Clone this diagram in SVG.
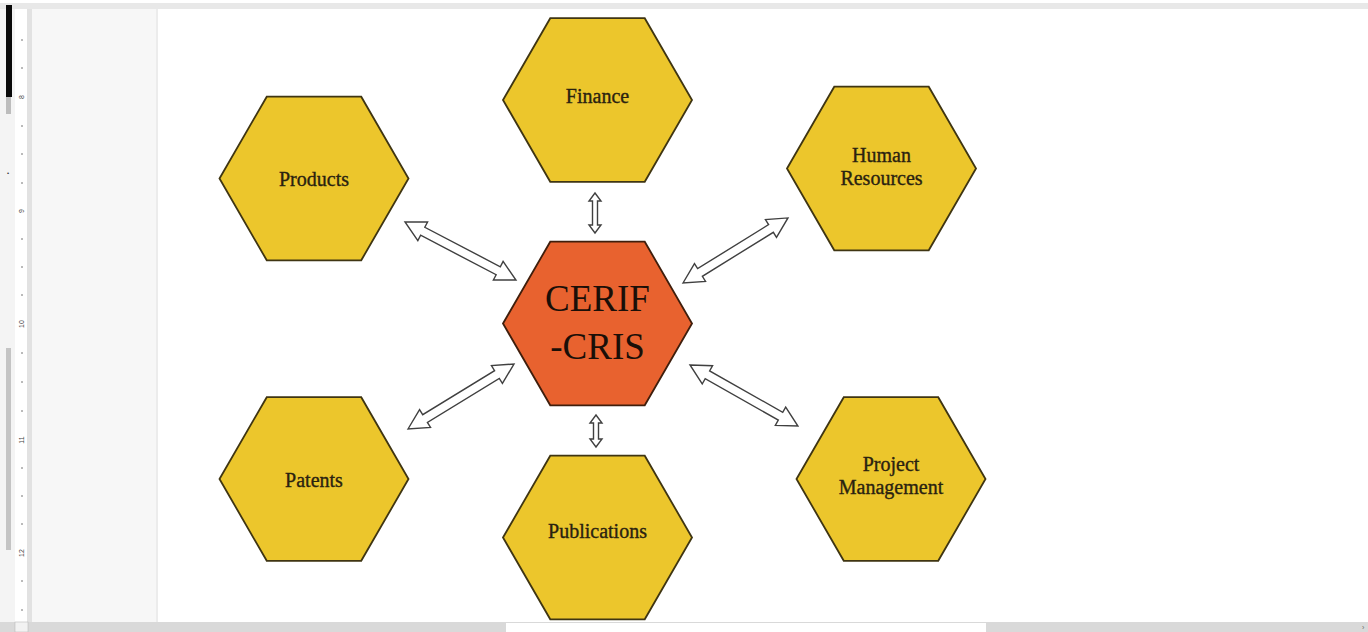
<svg xmlns="http://www.w3.org/2000/svg" width="1368" height="632" viewBox="0 0 1368 632">
  <style>
    .hex { fill: #ECC62C; stroke: #3f3512; stroke-width: 1.8; stroke-linejoin: miter; }
    .core { fill: #E8622F; stroke: #3f1e0c; stroke-width: 1.8; }
    .lbl { font-family: "Liberation Serif", "Times New Roman", serif; font-size: 20px; fill: #2a2210; stroke: #2a2210; stroke-width: 0.35; text-anchor: middle; }
    .big { font-family: "Liberation Serif", "Times New Roman", serif; font-size: 37px; fill: #1a0f08; text-anchor: middle; }
    .arrow { fill: #ffffff; stroke: #404040; stroke-width: 1.4; stroke-linejoin: miter; }
    .tick { stroke: #777; stroke-width: 1; }
    .rnum { font-family: "Liberation Sans", Arial, sans-serif; font-size: 7px; fill: #444; text-anchor: middle; }
  </style>
  <defs>
    <!-- regular flat-topped hexagon, circumradius 94.5, centred on origin -->
    <polygon id="hexShape" points="-94.5,0 -47.25,-81.8 47.25,-81.8 94.5,0 47.25,81.8 -47.25,81.8"/>
  </defs>

  <!-- editor chrome -->
  <g id="chrome">
    <rect x="0" y="0" width="1368" height="632" fill="#ffffff"/>
    <rect x="0" y="3" width="1368" height="6" fill="#e8e8e8"/>
    <rect x="0" y="9" width="15" height="613" fill="#f4f4f4"/>
    <rect x="6" y="5" width="6" height="92" fill="#0a0a0a"/>
    <rect x="6" y="97" width="5" height="17" fill="#bdbdbd"/>
    <rect x="6" y="348" width="5" height="202" fill="#c4c4c4"/>
    <text x="7" y="175" font-family="Liberation Sans, Arial, sans-serif" font-size="6" fill="#333">•</text>
    <!-- vertical ruler -->
    <rect x="15" y="9" width="12" height="613" fill="#ffffff"/>
    <rect x="27" y="9" width="5" height="613" fill="#e2e2e2"/>
    <g id="ruler">
      <line class="tick" x1="21" y1="40" x2="23" y2="40"/>
      <line class="tick" x1="21" y1="68" x2="23" y2="68"/>
      <line class="tick" x1="21" y1="126" x2="23" y2="126"/>
      <line class="tick" x1="21" y1="154" x2="23" y2="154"/>
      <line class="tick" x1="21" y1="183" x2="23" y2="183"/>
      <line class="tick" x1="21" y1="239" x2="23" y2="239"/>
      <line class="tick" x1="21" y1="267" x2="23" y2="267"/>
      <line class="tick" x1="21" y1="295" x2="23" y2="295"/>
      <line class="tick" x1="21" y1="353" x2="23" y2="353"/>
      <line class="tick" x1="21" y1="382" x2="23" y2="382"/>
      <line class="tick" x1="21" y1="411" x2="23" y2="411"/>
      <line class="tick" x1="21" y1="468" x2="23" y2="468"/>
      <line class="tick" x1="21" y1="496" x2="23" y2="496"/>
      <line class="tick" x1="21" y1="524" x2="23" y2="524"/>
      <line class="tick" x1="21" y1="581" x2="23" y2="581"/>
      <line class="tick" x1="21" y1="610" x2="23" y2="610"/>
      <text class="rnum" transform="translate(24,97) rotate(-90)">8</text>
      <text class="rnum" transform="translate(24,211) rotate(-90)">9</text>
      <text class="rnum" transform="translate(24,324) rotate(-90)">10</text>
      <text class="rnum" transform="translate(24,440) rotate(-90)">11</text>
      <text class="rnum" transform="translate(24,553) rotate(-90)">12</text>
    </g>
    <!-- page margin -->
    <rect x="32" y="9" width="125" height="613" fill="#f7f7f7"/>
    <rect x="156" y="9" width="2" height="613" fill="#ececec"/>
    <!-- horizontal scrollbar -->
    <rect x="0" y="622" width="1368" height="10" fill="#d9d9d9"/>
    <rect x="15" y="622" width="13" height="10" fill="#f2f2f2" stroke="#bbb" stroke-width="0.6"/>
    <rect x="506" y="623" width="480" height="9" fill="#ffffff"/>
    <text x="1362" y="630" font-family="Liberation Sans, Arial, sans-serif" font-size="7" fill="#666">›</text>
  </g>

  <!-- connectors: white double-headed block arrows -->
  <g id="connectors">
    <!-- Products <-> CERIF -->
    <polygon class="arrow" transform="translate(405,222) rotate(27.6)" points="0,0 20,-10.5 20,-4.5 105.2,-4.5 105.2,-10.5 125.2,0 105.2,10.5 105.2,4.5 20,4.5 20,10.5"/>
    <!-- CERIF <-> Human Resources -->
    <polygon class="arrow" transform="translate(683,283) rotate(-31.8)" points="0,0 20,-10.5 20,-4.5 103.5,-4.5 103.5,-10.5 123.5,0 103.5,10.5 103.5,4.5 20,4.5 20,10.5"/>
    <!-- Patents <-> CERIF -->
    <polygon class="arrow" transform="translate(408,429) rotate(-31.5)" points="0,0 20,-10.5 20,-4.5 104.3,-4.5 104.3,-10.5 124.3,0 104.3,10.5 104.3,4.5 20,4.5 20,10.5"/>
    <!-- CERIF <-> Project Management -->
    <polygon class="arrow" transform="translate(690,365) rotate(29.5)" points="0,0 20,-10.5 20,-4.5 104,-4.5 104,-10.5 124,0 104,10.5 104,4.5 20,4.5 20,10.5"/>
    <!-- Finance <-> CERIF -->
    <polygon class="arrow" transform="translate(595,193) rotate(90)" points="0,0 8,-6 8,-2.5 32,-2.5 32,-6 40,0 32,6 32,2.5 8,2.5 8,6"/>
    <!-- CERIF <-> Publications -->
    <polygon class="arrow" transform="translate(596,415) rotate(90)" points="0,0 8,-6 8,-2.5 24,-2.5 24,-6 32,0 24,6 24,2.5 8,2.5 8,6"/>
  </g>

  <g id="node-finance" transform="translate(597.5,100)">
    <use href="#hexShape" class="hex"/>
    <text class="lbl" x="0" y="3">Finance</text>
  </g>

  <g id="node-products" transform="translate(314,178.5)">
    <use href="#hexShape" class="hex"/>
    <text class="lbl" x="0" y="7">Products</text>
  </g>

  <g id="node-human-resources" transform="translate(881.5,168.5)">
    <use href="#hexShape" class="hex"/>
    <text class="lbl" x="0" y="-7">Human</text>
    <text class="lbl" x="0" y="16">Resources</text>
  </g>

  <g id="node-cerif" transform="translate(597.5,323.5)">
    <use href="#hexShape" class="core"/>
    <text class="big" x="0" y="-13">CERIF</text>
    <text class="big" x="0" y="35">-CRIS</text>
  </g>

  <g id="node-patents" transform="translate(314,479)">
    <use href="#hexShape" class="hex"/>
    <text class="lbl" x="0" y="8">Patents</text>
  </g>

  <g id="node-project-management" transform="translate(891,479)">
    <use href="#hexShape" class="hex"/>
    <text class="lbl" x="0" y="-8">Project</text>
    <text class="lbl" x="0" y="15">Management</text>
  </g>

  <g id="node-publications" transform="translate(597.5,537.5)">
    <use href="#hexShape" class="hex"/>
    <text class="lbl" x="0" y="0">Publications</text>
  </g>
</svg>
